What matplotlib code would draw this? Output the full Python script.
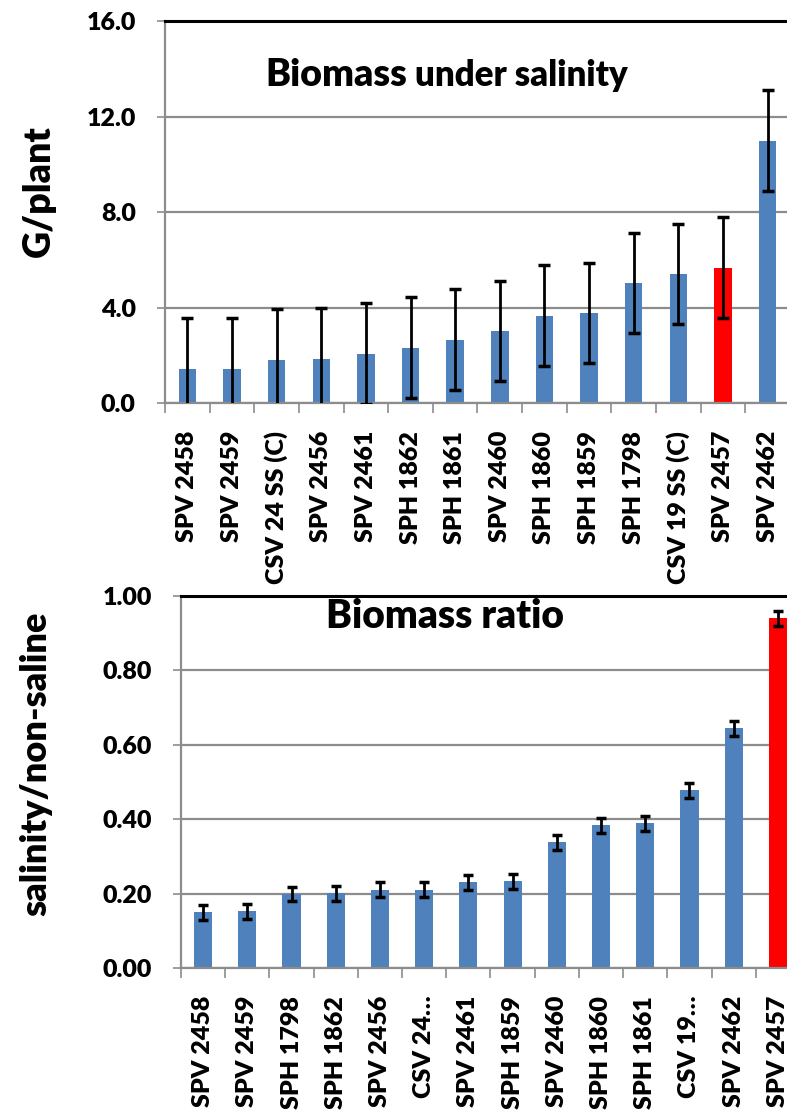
import matplotlib
matplotlib.use("Agg")
import matplotlib.pyplot as plt
from matplotlib.ticker import FixedLocator, FormatStrFormatter
import numpy as np

# Biomass under salinity (g/plant)
salt_labels = ["SPV 2458", "SPV 2459", "CSV 24 SS (C)", "SPV 2456", "SPV 2461",
               "SPH 1862", "SPH 1861", "SPV 2460", "SPH 1860", "SPH 1859",
               "SPH 1798", "CSV 19 SS (C)", "SPV 2457", "SPV 2462"]
salt_biomass = [1.44, 1.44, 1.81, 1.85, 2.06, 2.32, 2.65, 3.03, 3.65, 3.78,
                5.03, 5.41, 5.66, 10.98]
salt_err = [2.1, 2.1, 2.12, 2.12, 2.11, 2.12, 2.11, 2.1, 2.11, 2.1,
            2.1, 2.1, 2.11, 2.12]

# Biomass ratio (salinity / non-saline)
ratio_labels = ["SPV 2458", "SPV 2459", "SPH 1798", "SPH 1862", "SPV 2456",
                "CSV 24\u2026", "SPV 2461", "SPH 1859", "SPV 2460", "SPH 1860",
                "SPH 1861", "CSV 19\u2026", "SPV 2462", "SPV 2457"]
ratio_values = [0.150, 0.152, 0.199, 0.201, 0.211, 0.211, 0.230, 0.233, 0.338,
                0.384, 0.389, 0.478, 0.644, 0.940]
ratio_err = [0.02] * 14

highlight = "SPV 2457"
BLUE = "#4F81BD"
RED = "#FF0000"
GRID = "#8C8C8C"
FONT = "Lato"
WEIGHT = "heavy"

plt.rcParams["font.family"] = [FONT, "DejaVu Sans"]
plt.rcParams["font.weight"] = WEIGHT

W, H = 787, 1110
fig = plt.figure(figsize=(W / 100, H / 100), dpi=100)


def px_axes(left, top, right, bottom):
    return fig.add_axes([left / W, 1 - bottom / H, (right - left) / W, (bottom - top) / H])


def style_axes(ax, n, ymax, step, fmt, title_parts, title_xy):
    ax.set_xlim(-0.5, n - 0.5)
    ax.set_ylim(0, ymax)
    ax.yaxis.set_major_locator(FixedLocator(np.arange(0, ymax + step / 2, step)))
    ax.yaxis.set_major_formatter(FormatStrFormatter(fmt))
    ax.grid(axis="y", color=GRID, linewidth=1.6, zorder=0)
    ax.set_axisbelow(True)
    for side in ("left", "bottom"):
        ax.spines[side].set_color(GRID)
        ax.spines[side].set_linewidth(1.6)
    ax.spines["right"].set_visible(False)
    ax.spines["top"].set_color("black")
    ax.spines["top"].set_linewidth(2.2)
    ax.tick_params(axis="y", length=6, width=1.2, color=GRID, labelsize=18, pad=15)
    ax.set_xticks(np.arange(n))
    ax.set_xticks(np.arange(n + 1) - 0.5, minor=True)
    ax.tick_params(axis="x", which="major", length=0, pad=20, labelsize=18,
                   labelrotation=90)
    ax.tick_params(axis="x", which="minor", length=7, width=1.2, color=GRID)
    for lab in ax.get_xticklabels() + ax.get_yticklabels():
        lab.set_fontweight(WEIGHT)
    t1 = ax.text(title_xy[0], title_xy[1], title_parts[0], transform=ax.transAxes,
                 fontsize=title_parts[1], fontweight=WEIGHT, va="baseline", ha="left")
    if len(title_parts) > 2:
        ax.annotate(title_parts[2], xy=(1, 0), xycoords=t1, fontsize=title_parts[3],
                    fontweight=WEIGHT, va="bottom", ha="left")


# --- top panel ---
ax1 = px_axes(165, 21, 790, 403)
x1 = np.arange(len(salt_labels))
colors1 = [RED if lab == highlight else BLUE for lab in salt_labels]
ax1.bar(x1, salt_biomass, width=0.39, color=colors1, zorder=2)
ax1.errorbar(x1, salt_biomass, yerr=salt_err, fmt="none", ecolor="black",
             elinewidth=2, capsize=4, capthick=2.5, zorder=3)
ax1.set_xticklabels(salt_labels, va="top", ha="center")
style_axes(ax1, len(salt_labels), 16, 4, "%.1f",
           ("Biomass", 27, " under salinity", 25), (0.16, 0.83))
ax1.set_ylabel("G/plant", fontsize=27, fontweight=WEIGHT)
ax1.yaxis.set_label_coords(-0.174, 0.555)

# --- bottom panel ---
ax2 = px_axes(181, 596, 800, 968)
x2 = np.arange(len(ratio_labels))
colors2 = [RED if lab == highlight else BLUE for lab in ratio_labels]
ax2.bar(x2, ratio_values, width=0.41, color=colors2, zorder=2)
ax2.errorbar(x2, ratio_values, yerr=ratio_err, fmt="none", ecolor="black",
             elinewidth=2, capsize=3.5, capthick=2.5, zorder=3)
ax2.set_xticklabels(ratio_labels, va="top", ha="center")
style_axes(ax2, len(ratio_labels), 1.0, 0.2, "%.2f",
           ("Biomass ratio", 28), (0.235, 0.915))
ax2.set_ylabel("salinity/non-saline", fontsize=26, fontweight=WEIGHT)
ax2.yaxis.set_label_coords(-0.208, 0.548)

fig.savefig("out.png", dpi=100)
